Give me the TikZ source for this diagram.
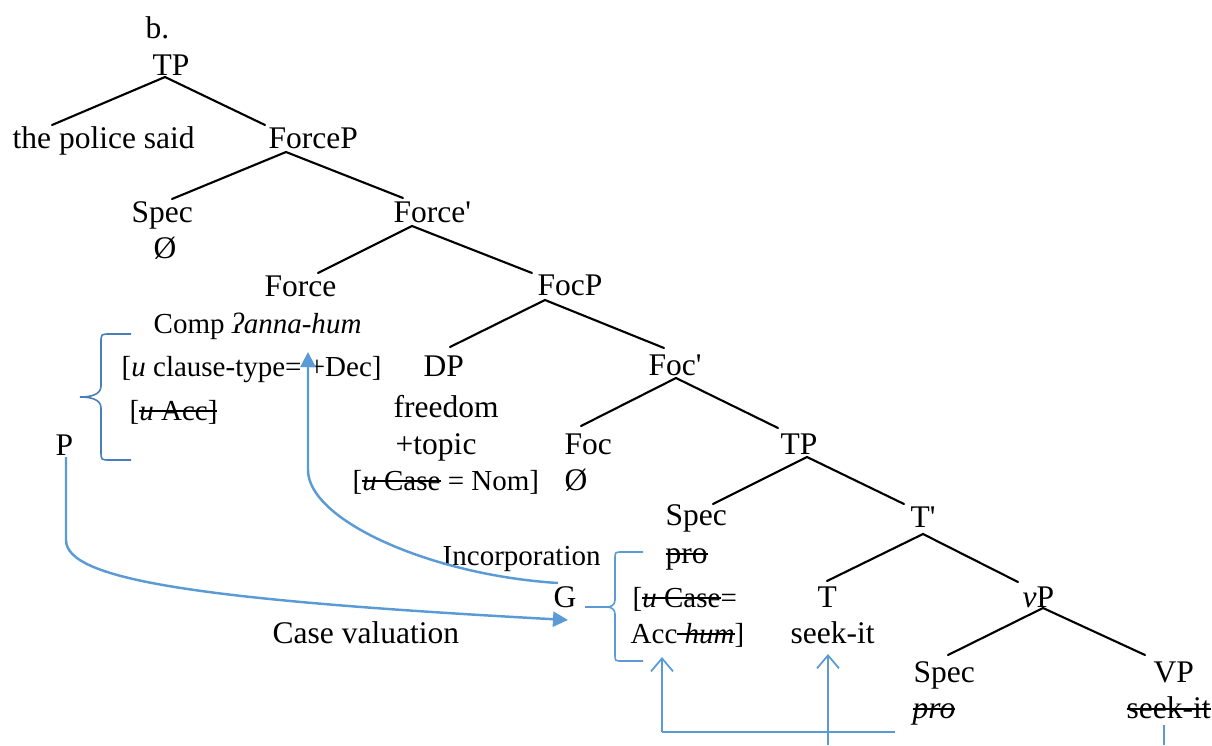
\documentclass[tikz,border=0pt]{standalone}
\usepackage{fontspec}
\setmainfont{Liberation Serif}
\usetikzlibrary{arrows.meta}
\definecolor{lb}{RGB}{91,155,213}
\definecolor{db}{RGB}{74,126,187}
\newcommand\xstrike[1]{{\setbox0\hbox{#1}\rlap{\copy0}\rule[0.27em]{\wd0}{0.55pt}}}
\newcommand\bigf{\fontsize{8.96}{10.8}\selectfont}
\newcommand\smf{\fontsize{8.25}{10}\selectfont}
\begin{document}
\begin{tikzpicture}[x=0.01cm,y=-0.01cm,
  bt/.style={inner sep=0pt, anchor=base west, font=\bigf},
  st/.style={inner sep=0pt, anchor=base west, font=\smf},
  tline/.style={line width=0.6pt, line cap=round},
  blu/.style={draw=lb, line width=0.7pt},
  thinblu/.style={draw=lb, line width=0.5pt},
  brace/.style={line width=0.45pt},
  tri/.style={-{Triangle[length=0.15cm,width=0.15cm]}},
  barb/.style={-{Straight Barb[length=0.13cm,width=0.22cm]}}]
\useasboundingbox (0,0) rectangle (1212,745);
% ---------- nodes ----------
\node[bt] (lab) at (145,38) {b.};
\node[bt] (tp1) at (152,75) {TP};
\node[bt] (tps) at (12,148) {the police said};
\node[bt] (forcep) at (268,148) {ForceP};
\node[bt] (spec1) at (131,222) {Spec};
\node[bt] (null1) at (153,258) {Ø};
\node[bt] (forcebar) at (393,222) {Force\textquotesingle};
\node[bt] (force) at (264,296) {Force};
\node[bt] (focp) at (537,295) {FocP};
\node[st] (comp) at (153,333) {Comp \textit{ʔanna-hum}};
\node[st] (ctype) at (121,376) {[\textit{u} clause-type= +Dec]};
\node[st] (uacc) at (129,420) {[\xstrike{\textit{u} Acc]}};
\node[bt] (p) at (55,455) {P};
\node[bt] (dp) at (423,376) {DP};
\node[bt] (freedom) at (393,417) {freedom};
\node[bt] (topic) at (395,454) {+topic};
\node[st] (nom) at (352,490) {[\xstrike{\textit{u} Case} = Nom]};
\node[bt] (focbar) at (648,375) {Foc\textquotesingle};
\node[bt] (foc) at (564,454) {Foc};
\node[bt] (null2) at (564,490) {Ø};
\node[bt] (tp2) at (780,454) {TP};
\node[bt] (spec2) at (665,525) {Spec};
\node[bt] (tbar) at (910,527) {T\textquotesingle};
\node[bt] (pro1) at (665,563) {\xstrike{pro}};
\node[st] (incorp) at (442,565) {Incorporation};
\node[bt] (g) at (553,607) {G};
\node[st] (ucase) at (632,607) {[\xstrike{\textit{u} Case}=};
\node[st] (acchum) at (630,643) {Acc\xstrike{ \textit{hum}}]};
\node[bt] (caseval) at (272,643) {Case valuation};
\node[bt] (t) at (817,607) {T};
\node[bt] (seek1) at (790,643) {seek-it};
\node[bt] (vp) at (1022,607) {\textit{v}P};
\node[bt] (spec3) at (913,682) {Spec};
\node[bt] (pro2) at (912,718) {\xstrike{\textit{pro}}};
\node[bt] (vvp) at (1153,682) {VP};
\node[bt] (seek2) at (1126,718) {\xstrike{seek-it}};
% ---------- tree coordinates ----------
\coordinate (tp1-b) at (165,77);
\coordinate (tps-t) at (52,125);
\coordinate (forcep-t) at (265,125);
\coordinate (forcep-b) at (286,152);
\coordinate (spec1-t) at (172,199);
\coordinate (forcebar-t) at (403,198);
\coordinate (forcebar-b) at (412,226);
\coordinate (force-t) at (318,273);
\coordinate (focp-t) at (532,273);
\coordinate (focp-b) at (545,300);
\coordinate (dp-t) at (450,347);
\coordinate (focbar-t) at (664,348);
\coordinate (focbar-b) at (676,378);
\coordinate (foc-t) at (581,426);
\coordinate (tp2-t) at (778,428);
\coordinate (tp2-b) at (807,457);
\coordinate (spec2-t) at (713,504);
\coordinate (tbar-t) at (904,504);
\coordinate (tbar-b) at (923,534);
\coordinate (t-t) at (827,581);
\coordinate (vp-t) at (1018,582);
\coordinate (vp-b) at (1043,608);
\coordinate (spec3-t) at (948,655);
\coordinate (vvp-t) at (1145,655);
\draw[tline] (tps-t) -- (tp1-b) -- (forcep-t);
\draw[tline] (spec1-t) -- (forcep-b) -- (forcebar-t);
\draw[tline] (force-t) -- (forcebar-b) -- (focp-t);
\draw[tline] (dp-t) -- (focp-b) -- (focbar-t);
\draw[tline] (foc-t) -- (focbar-b) -- (tp2-t);
\draw[tline] (spec2-t) -- (tp2-b) -- (tbar-t);
\draw[tline] (t-t) -- (tbar-b) -- (vp-t);
\draw[tline] (spec3-t) -- (vp-b) -- (vvp-t);
% ---------- braces ----------
\draw[brace, db] (131,334) -- (110,334) .. controls (101,334) .. (101,343) -- (101,386)
  .. controls (101,395) and (90,397) .. (80,397)
  .. controls (90,397) and (101,399) .. (101,408) -- (101,451)
  .. controls (101,460) .. (110,460) -- (131,460);
\draw[brace, lb] (643,552) -- (622,552) .. controls (615,552) .. (615,559) -- (615,600)
  .. controls (615,605) and (611,607) .. (607,607) -- (585,607);
\draw[brace, lb] (607,607) .. controls (611,607) and (615,609) .. (615,614) -- (615,654)
  .. controls (615,661) .. (622,661) -- (643,661);
% ---------- blue connectors ----------
\coordinate (inc-s) at (558,583);
\coordinate (inc-e) at (308,352);
\draw[blu, tri] (inc-s) .. controls (430,575) and (308,520) .. (308,470) -- (inc-e);
\coordinate (p-b) at (66,457);
\coordinate (g-w) at (568,620);
\draw[blu, tri] (p-b) -- (66,540) .. controls (66,580) and (200,600) .. (g-w);
\coordinate (b1) at (662,732);
\coordinate (b2) at (895,732);
\coordinate (acc-s) at (662,657);
\coordinate (seek-s) at (828,654);
\coordinate (seek-b) at (828,745);
\coordinate (vvp-s) at (1164,725);
\coordinate (vvp-bb) at (1164,745);
\draw[thinblu] (b2) -- (b1);
\draw[thinblu, barb] (b1) -- (acc-s);
\draw[thinblu, barb] (seek-b) -- (seek-s);
\draw[thinblu] (vvp-s) -- (vvp-bb);
\end{tikzpicture}
\end{document}
